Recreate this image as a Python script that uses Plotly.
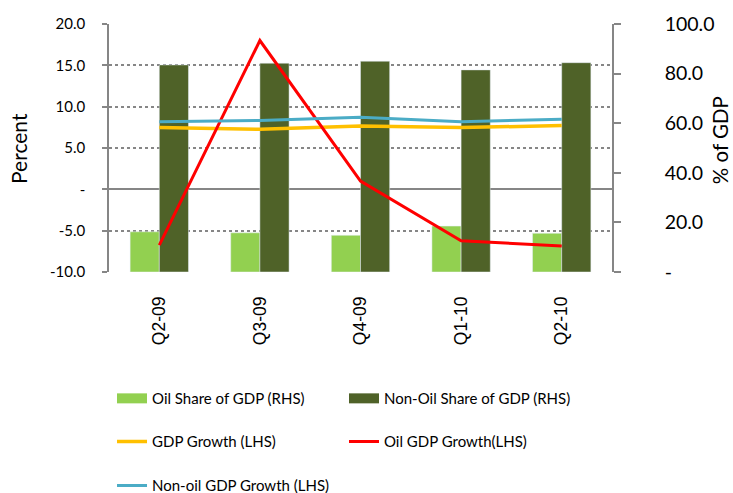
import plotly.graph_objects as go

categories = ["Q2-09", "Q3-09", "Q4-09", "Q1-10", "Q2-10"]
oil_share = [16.2, 15.8, 14.8, 18.5, 15.6]
non_oil_share = [83.5, 84.2, 85.0, 81.5, 84.4]
gdp_growth = [7.47, 7.27, 7.67, 7.47, 7.71]
oil_gdp_growth = [-6.75, 18.0, 1.0, -6.23, -6.84]
non_oil_gdp_growth = [8.19, 8.32, 8.73, 8.19, 8.48]

left_ticks = [-10, -5, 0, 5, 10, 15, 20]
left_ticktext = ["-10.0", "-5.0", "-", "5.0", "10.0", "15.0", "20.0"]
right_ticks = [0, 20, 40, 60, 80, 100]
right_ticktext = ["-", "20.0", "40.0", "60.0", "80.0", "100.0"]

C_OIL = "#92D050"
C_NONOIL = "#4F6228"
C_GDP = "#FFC000"
C_OILG = "#FF0000"
C_NONOILG = "#4BACC6"
AXC = "#868686"
FONT = "Lato"

fig = go.Figure()

# bars on right axis (primary y, drawn below)
fig.add_trace(go.Bar(x=categories, y=oil_share, name="Oil Share of GDP (RHS)",
                     marker_color=C_OIL, yaxis="y", showlegend=False, offsetgroup="a"))
fig.add_trace(go.Bar(x=categories, y=non_oil_share, name="Non-Oil Share of GDP (RHS)",
                     marker_color=C_NONOIL, yaxis="y", showlegend=False, offsetgroup="b"))

# lines on left axis (overlay, drawn above)
fig.add_trace(go.Scatter(x=categories, y=gdp_growth, name="GDP Growth (LHS)", mode="lines",
                         line=dict(color=C_GDP, width=3.5), yaxis="y2", legend="legend3"))
fig.add_trace(go.Scatter(x=categories, y=oil_gdp_growth, name="Oil GDP Growth(LHS)", mode="lines",
                         line=dict(color=C_OILG, width=3), yaxis="y2", legend="legend4"))
fig.add_trace(go.Scatter(x=categories, y=non_oil_gdp_growth, name="Non-oil GDP Growth (LHS)", mode="lines",
                         line=dict(color=C_NONOILG, width=3), yaxis="y2", legend="legend5"))

# legend swatches for bars
fig.add_trace(go.Scatter(x=[None], y=[None], name="Oil Share of GDP (RHS)", mode="lines",
                         line=dict(color=C_OIL, width=12), yaxis="y", legend="legend"))
fig.add_trace(go.Scatter(x=[None], y=[None], name="Non-Oil Share of GDP (RHS)", mode="lines",
                         line=dict(color=C_NONOIL, width=12), yaxis="y", legend="legend2"))

leg_common = dict(orientation="h", xanchor="left", yanchor="middle",
                  font=dict(family=FONT, size=15, color="#000"),
                  bgcolor="rgba(0,0,0,0)", itemclick=False)
COL1, COL2 = 0.006, 0.4672
ROW1, ROW2, ROW3 = -0.5105, -0.684, -0.862

fig.update_layout(
    width=733, height=493,
    margin=dict(l=109, r=121, t=24, b=221, autoexpand=False),
    plot_bgcolor="white", paper_bgcolor="white",
    barmode="group", bargap=0.42, bargroupgap=0,
    font=dict(family=FONT, color="#000"),
    xaxis=dict(type="category", range=[-0.5, 4.5], tickangle=-90, ticks="",
               showgrid=False, showline=False, zeroline=False, automargin=False,
               tickfont=dict(family="Liberation Sans", size=17.5, color="#000"),
               ticklabelstandoff=20),
    xaxis2=dict(overlaying="x", anchor="free", position=1/3, range=[-0.5, 4.5],
                tickmode="array", tickvals=[0.5, 1.5, 2.5, 3.5], ticks="outside",
                ticklen=7, tickwidth=1.5, tickcolor=AXC, showticklabels=False,
                showgrid=False, zeroline=False, showline=False, automargin=False),
    yaxis=dict(side="right", range=[0, 100], tickmode="array", tickvals=right_ticks,
               ticktext=right_ticktext, showgrid=False, zeroline=False, automargin=False,
               showline=True, linecolor=AXC, linewidth=1.5, ticks="outside",
               ticklen=7, tickcolor=AXC, tickwidth=1.5,
               tickfont=dict(family=FONT, size=19.5, color="#000"), ticklabelstandoff=40),
    yaxis2=dict(overlaying="y", side="left", range=[-10, 20], tickmode="array",
                tickvals=left_ticks, ticktext=left_ticktext, showgrid=True, automargin=False,
                gridcolor=AXC, griddash="dot", gridwidth=1.5,
                zeroline=True, zerolinecolor=AXC, zerolinewidth=1.5,
                showline=True, linecolor=AXC, linewidth=1.5, ticks="outside",
                ticklen=5, tickcolor=AXC, tickwidth=1.5,
                tickfont=dict(family=FONT, size=15, color="#000"), ticklabelstandoff=14),
    legend=dict(x=COL1, y=ROW1, **leg_common),
    legend2=dict(x=COL2, y=ROW1, **leg_common),
    legend3=dict(x=COL1, y=ROW2, **leg_common),
    legend4=dict(x=COL2, y=ROW2, **leg_common),
    legend5=dict(x=COL1, y=ROW3, **leg_common),
    annotations=[
        dict(text="Percent", xref="paper", yref="paper", x=-0.181, y=0.5,
             textangle=-90, showarrow=False, font=dict(family=FONT, size=21, color="#000"),
             xanchor="center", yanchor="middle"),
        dict(text="% of GDP", xref="paper", yref="paper", x=1.214, y=0.53,
             textangle=-90, showarrow=False, font=dict(family=FONT, size=20.5, color="#000"),
             xanchor="center", yanchor="middle"),
    ],
)

fig.write_html("out.html", post_script="document.body.style.margin='0px';",
               config={"displayModeBar": False})
